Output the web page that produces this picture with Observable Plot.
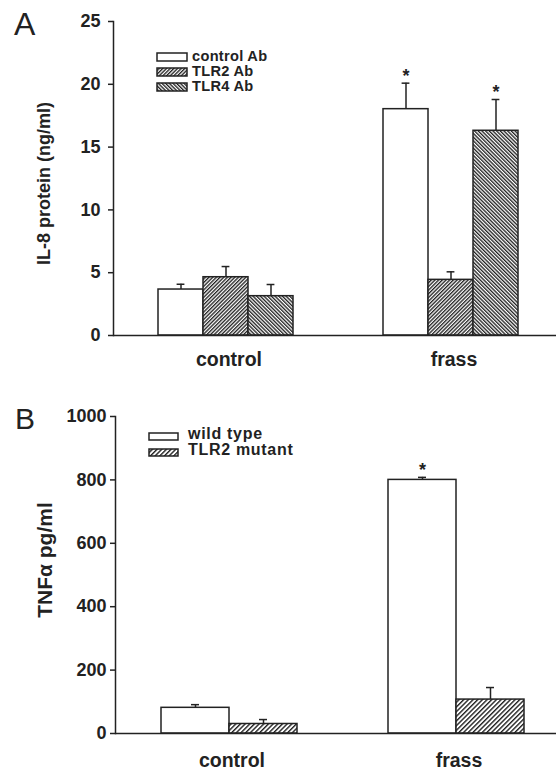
<!DOCTYPE html>
<html><head><meta charset="utf-8">
<script src="https://cdn.jsdelivr.net/npm/d3@7"></script>
<script src="https://cdn.jsdelivr.net/npm/@observablehq/plot@0.6"></script>
<style>
body{margin:0;background:#fff;}
#wrap{position:relative;width:556px;height:773px;overflow:hidden;font-family:"Liberation Sans",Arial,sans-serif;color:#222;background:#fff;}
.panel{position:absolute;left:0;}
.letter{position:absolute;line-height:1;font-weight:normal;}
.lg{position:absolute;font-weight:bold;line-height:1;white-space:nowrap;}
.sw{position:absolute;display:block;}
</style></head><body>
<svg width="0" height="0" style="position:absolute">
<defs>
 <pattern id="hA2" patternUnits="userSpaceOnUse" width="2.6" height="2.6" patternTransform="rotate(45)">
   <rect width="2.6" height="2.6" fill="#fff"/><line x1="0" y1="0" x2="0" y2="2.6" stroke="#222" stroke-width="2.7"/>
 </pattern>
 <pattern id="hA4" patternUnits="userSpaceOnUse" width="2.6" height="2.6" patternTransform="rotate(-45)">
   <rect width="2.6" height="2.6" fill="#fff"/><line x1="0" y1="0" x2="0" y2="2.6" stroke="#222" stroke-width="2.7"/>
 </pattern>
 <pattern id="hB2" patternUnits="userSpaceOnUse" width="3.3" height="3.3" patternTransform="rotate(45)">
   <rect width="3.3" height="3.3" fill="#fff"/><line x1="0" y1="0" x2="0" y2="3.3" stroke="#222" stroke-width="2.8"/>
 </pattern>
</defs>
</svg>
<div id="wrap"></div>
<script>
// ---------- Data ----------
const groups = ["control", "frass"];

// Panel A: IL-8 protein (ng/ml)
const seriesA = ["control Ab", "TLR2 Ab", "TLR4 Ab"];
const controlAbMean = [3.66, 18.02];
const controlAbErr  = [0.42, 2.07];
const tlr2AbMean    = [4.64, 4.43];
const tlr2AbErr     = [0.85, 0.64];
const tlr4AbMean    = [3.13, 16.3];
const tlr4AbErr     = [0.93, 2.49];
const starsA = [[false, true], [false, false], [false, true]];
const ticksA = [0, 5, 10, 15, 20, 25];

// Panel B: TNFα pg/ml
const seriesB = ["wild type", "TLR2 mutant"];
const wildTypeMean  = [81, 800];
const wildTypeErr   = [10, 8];
const tlr2MutMean   = [30, 107];
const tlr2MutErr    = [14, 38];
const starsB = [[false, true], [false, false]];
const ticksB = [0, 200, 400, 600, 800, 1000];

// ---------- Build tables ----------
function rowsFrom(series, means, errs, stars) {
  const out = [];
  series.forEach((s, i) => groups.forEach((g, j) => out.push({
    group: g, series: s, mean: means[i][j], top: means[i][j] + errs[i][j], star: stars[i][j]
  })));
  return out;
}
const rowsA = rowsFrom(seriesA, [controlAbMean, tlr2AbMean, tlr4AbMean], [controlAbErr, tlr2AbErr, tlr4AbErr], starsA);
const rowsB = rowsFrom(seriesB, [wildTypeMean, tlr2MutMean], [wildTypeErr, tlr2MutErr], starsB);

const INK = "#222";
const FONT = "'Liberation Sans', Arial, sans-serif";

function panel(o) {
  return Plot.plot({
    width: 556, height: o.height,
    marginLeft: o.ml, marginRight: o.mr, marginTop: o.mt, marginBottom: o.mb,
    style: {fontFamily: FONT, fontWeight: "bold", color: INK, background: "transparent", overflow: "visible"},
    fx: {domain: groups, padding: 0, label: null},
    x: {domain: o.series, paddingInner: 0, paddingOuter: o.po, axis: null},
    y: {domain: o.ydomain, label: null},
    color: {domain: o.series, range: o.fills},
    marks: [
      Plot.barY(o.rows, {fx: "group", x: "series", y: "mean", fill: "series", stroke: INK, strokeWidth: 1.5}),
      Plot.ruleX(o.rows, {fx: "group", x: "series", y1: "mean", y2: "top", stroke: INK, strokeWidth: 1.5}),
      Plot.tickY(o.rows, {fx: "group", x: "series", y: "top", stroke: INK, strokeWidth: 1.5, insetLeft: o.capInset, insetRight: o.capInset}),
      Plot.text(o.rows.filter(d => d.star), {fx: "group", x: "series", y: "top", text: () => "*", dy: -7, fontSize: 18, fill: INK}),
      Plot.ruleY([0], {stroke: INK, strokeWidth: 1.5}),
      Plot.frame({anchor: "left", facetAnchor: "left", stroke: INK, strokeWidth: 1.5}),
      Plot.axisY({ticks: o.ticks, tickFormat: d => String(d), tickSize: 5, tickPadding: o.tp, fontSize: 18, strokeWidth: 1.5, label: null}),
      Plot.text([o.ylabel], {text: d => d, frameAnchor: "left", facetAnchor: "left", rotate: -90, lineAnchor: "top",
        textAnchor: "middle", dx: -o.lo, dy: o.ldy, fontSize: o.labelSize, fill: INK}),
      Plot.axisFx({anchor: "bottom", tickSize: 0, tickPadding: o.fxp, fontSize: 19.5, dx: 3, label: null})
    ]
  });
}

const wrap = document.getElementById("wrap");

const pA = panel({height: 380, ml: 113, mr: -7, mt: 21, mb: 45, series: seriesA, po: 0.983,
  ydomain: [0, 25], ticks: ticksA, tp: 8, rows: rowsA, fills: ["#fff", "url(#hA2)", "url(#hA4)"],
  capInset: 18.6, ylabel: "IL-8 protein (ng/ml)", labelSize: 18, lo: 76, ldy: 5, fxp: 17});
pA.classList.add("panel"); pA.style.top = "0px";
wrap.appendChild(pA);

const pB = panel({height: 393, ml: 115, mr: -13, mt: 36, mb: 40, series: seriesB, po: 0.657,
  ydomain: [0, 1000], ticks: ticksB, tp: 4, rows: rowsB, fills: ["#fff", "url(#hB2)"],
  capInset: 30, ylabel: "TNFα pg/ml", labelSize: 21, lo: 78, ldy: -15, fxp: 20});
pB.classList.add("panel"); pB.style.top = "380px";
wrap.appendChild(pB);

// ---------- Panel letters & legends (HTML) ----------
function addText(txt, cls, left, top, size, spacing) {
  const d = document.createElement("div");
  d.className = cls; d.textContent = txt;
  d.style.left = left + "px"; d.style.top = top + "px"; d.style.fontSize = size + "px";
  if (spacing) d.style.letterSpacing = spacing + "px";
  wrap.appendChild(d);
}
function addSwatch(fill, left, top, w, h) {
  const ns = "http://www.w3.org/2000/svg";
  const s = document.createElementNS(ns, "svg");
  s.setAttribute("width", w + 2); s.setAttribute("height", h + 2);
  s.setAttribute("class", "sw");
  s.style.left = (left - 1) + "px"; s.style.top = (top - 1) + "px";
  const r = document.createElementNS(ns, "rect");
  r.setAttribute("x", 1); r.setAttribute("y", 1); r.setAttribute("width", w); r.setAttribute("height", h);
  r.setAttribute("fill", fill); r.setAttribute("stroke", INK); r.setAttribute("stroke-width", 1.5);
  s.appendChild(r); wrap.appendChild(s);
}

addText("A", "letter", 14, 8, 32);
addText("B", "letter", 15, 404, 30);

const fillsA = ["#fff", "url(#hA2)", "url(#hA4)"];
seriesA.forEach((s, i) => {
  addSwatch(fillsA[i], 157, 52.5 + i * 15, 30, 8);
  addText(s, "lg", 192, 49.3 + i * 15, 14.6, 0.3);
});
const fillsB = ["#fff", "url(#hB2)"];
seriesB.forEach((s, i) => {
  addSwatch(fillsB[i], 149, 433 + i * 16, 29, 7);
  addText(s, "lg", 188, 425.5 + i * 16, 16, 0.7);
});
</script>
</body></html>
